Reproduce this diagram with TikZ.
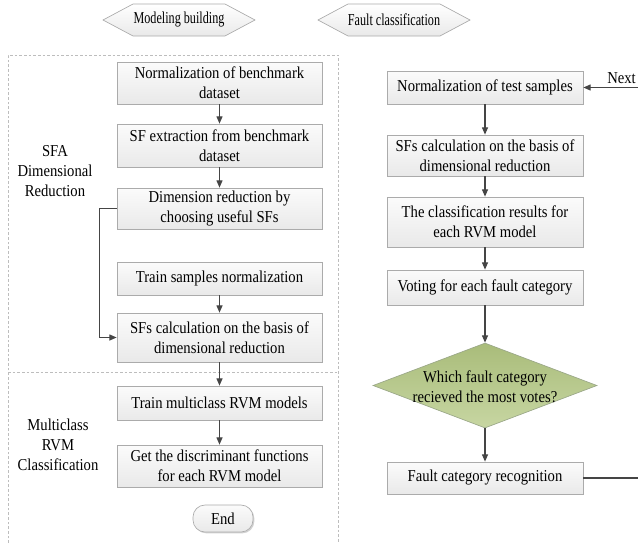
\documentclass[tikz,border=0pt]{standalone}
\usepackage{fontspec}
\setmainfont{Liberation Serif}[FakeStretch=0.88]
\newfontfamily\hexfont{Liberation Serif}[FakeStretch=0.73]
\usetikzlibrary{shapes.geometric,shadows,arrows.meta}
\definecolor{boxline}{HTML}{ABABAB}
\definecolor{boxtop}{HTML}{FBFBFB}
\definecolor{boxbot}{HTML}{E9E9E9}
\definecolor{arrcol}{HTML}{454545}
\definecolor{dashcol}{HTML}{BDBDBD}
\definecolor{dectop}{HTML}{A9BC7A}
\definecolor{decbot}{HTML}{C7D6A2}
\definecolor{decline}{HTML}{9AA788}
\begin{document}
\begin{tikzpicture}[x=0.75pt,y=-0.75pt,
  font=\fontsize{12.5}{15.2}\selectfont,
  box/.style={draw=boxline, line width=0.5pt, top color=boxtop, bottom color=boxbot,
    drop shadow={shadow xshift=1pt,shadow yshift=-1pt,opacity=0.18,fill=black},
    align=center, inner sep=0pt},
  lbox/.style={box, minimum width=153.75pt},
  rbox/.style={box, minimum width=147pt},
  endbox/.style={box, rounded corners=9pt, minimum width=45pt, minimum height=20.25pt},
  hexa/.style={draw=boxline, line width=0.5pt, top color=white, bottom color=boxbot},
  hextext/.style={font=\hexfont\fontsize{12.5}{15}\selectfont, inner sep=0pt},
  decision/.style={diamond, draw=decline, line width=0.5pt, top color=dectop, bottom color=decbot,
    inner sep=0pt, minimum width=168pt, minimum height=63.75pt},
  arr/.style={draw=arrcol, line width=0.9pt, -{Triangle[length=5.5pt,width=4.5pt]}},
  plain/.style={draw=arrcol, line width=0.9pt},
  dashline/.style={draw=dashcol, line width=0.6pt, dash pattern=on 2pt off 1.5pt},
  sidelabel/.style={align=center, inner sep=0pt}
]
\useasboundingbox (0,0) rectangle (638,543);

% dashed frame
\draw[dashline] (8,543) -- (8,55) -- (338,55) -- (338,543);
\draw[dashline] (8,372) -- (338,372);

% header hexagons
\path[hexa] (103,20) -- (133,4) -- (225,4) -- (255,20) -- (225,36) -- (133,36) -- cycle;
\node[hextext] (hmb) at (179,20) {Modeling building};
\path[hexa] (318,20) -- (348,4) -- (440,4) -- (470,20) -- (440,36) -- (348,36) -- cycle;
\node[hextext] (hfc) at (394,20) {Fault classification};

% left column
\node[lbox, minimum height=31.5pt] (b1) at (219.5,83) {Normalization of benchmark\\dataset};
\node[lbox, minimum height=32.25pt] (b2) at (219.5,145.5) {SF extraction from benchmark\\dataset};
\node[lbox, minimum height=30.75pt] (b3) at (219.5,208.5) {Dimension reduction by\\choosing useful SFs};
\node[lbox, minimum height=24.75pt] (b4) at (219.5,278.5) {Train samples normalization};
\node[lbox, minimum height=36.75pt] (b5) at (219.5,337.5) {SFs calculation on the basis of\\dimensional reduction};
\node[lbox, minimum height=25.5pt] (b6) at (219.5,403) {Train multiclass RVM models};
\node[lbox, minimum height=31.5pt] (b7) at (219.5,466) {Get the discriminant functions\\for each RVM model};
\node[endbox] (end) at (223,518.5) {End};

\node[sidelabel] (lab1) at (55,171) {SFA\\Dimensional\\Reduction};
\node[sidelabel] (lab2) at (58,445) {Multiclass\\RVM\\Classification};

\draw[arr] (b1) -- (b2);
\draw[arr] (b2) -- (b3);
\draw[arr] (b4) -- (b5);
\draw[arr] (b5) -- (b6);
\draw[arr] (b6) -- (b7);
\draw[arr] (b3.west) -- ++(-17,0) |- (b5.west);

% right column
\node[rbox, minimum height=24.75pt] (r1) at (485,87.5) {Normalization of test samples};
\node[rbox, minimum height=30.75pt] (r2) at (485,155.5) {SFs calculation on the basis of\\dimensional reduction};
\node[rbox, minimum height=37.5pt] (r3) at (485,222) {The classification results for\\each RVM model};
\node[rbox, minimum height=26.25pt] (r4) at (485,287.5) {Voting for each fault category};
\node[decision] (dec) at (485,385.5) {};
\node[align=center, inner sep=0pt] (dectext) at (485,387) {Which fault category\\recieved the most votes?};
\node[rbox, minimum height=24pt] (r5) at (485,478) {Fault category recognition};

\node[anchor=west, inner sep=0pt] (next) at (607,78) {Next};
\coordinate (nextin) at (640,87.5);
\coordinate (outr) at (640,478);

\draw[arr] (r1) -- (r2);
\draw[arr] (r2) -- (r3);
\draw[arr] (r3) -- (r4);
\draw[arr] (r4) -- (dec.north);
\draw[arr] (dec.south) -- (r5);
\draw[arr] (nextin) -- (r1.east);
\draw[plain] (r5.east) -- (outr);
\end{tikzpicture}
\end{document}
